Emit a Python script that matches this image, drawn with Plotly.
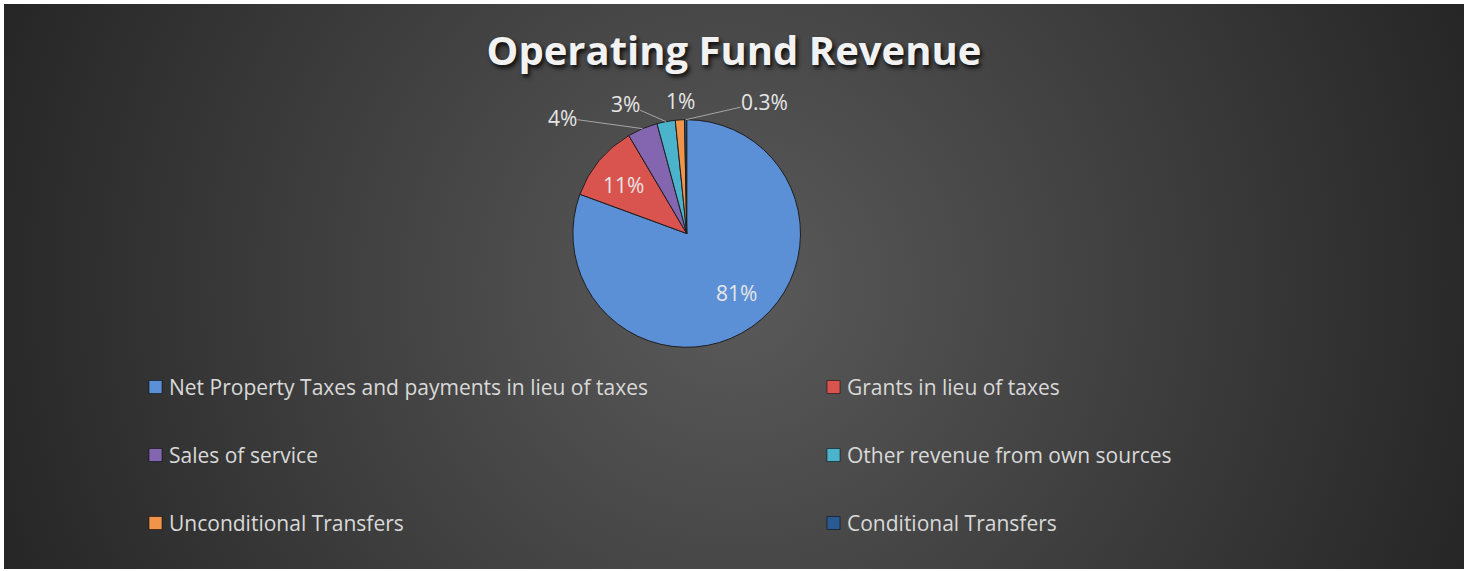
import base64
import math
import plotly.graph_objects as go

# ---- data ----
categories = [
    "Net Property Taxes and payments in lieu of taxes",
    "Grants in lieu of taxes",
    "Sales of service",
    "Other revenue from own sources",
    "Unconditional Transfers",
    "Conditional Transfers",
]
shares = [80.6, 10.9, 4.3, 2.6, 1.3, 0.3]
title_text = "Operating Fund Revenue"

# ---- style ----
colors = ["#5B8FD6", "#D9534F", "#8466B0", "#4BB3CC", "#F0944A", "#2A5A92"]
label_inside = [True, True, False, False, False, False]
label_shift = [(5, -5), (-3, -14), None, None, None, None]
label_offset = [None, None, (-80, -11), (-41, -18), (1, -19), (79, -18)]
label_leader = [False, False, True, True, False, True]

W, H = 1465, 571
CX, CY, R = 686.7, 233.5, 113.8   # pie centre / radius in px
FONT = "Open Sans"

total = sum(shares)
pct = [v / total * 100 for v in shares]
labels_txt = [f"{p:.0f}%" if p >= 1 else f"{p:.1f}%" for p in pct]


def px2paper(x, y):
    return x / W, 1 - y / H


fig = go.Figure()
fig.add_trace(go.Pie(
    labels=categories,
    values=shares,
    sort=False,
    direction="clockwise",
    rotation=0,
    marker=dict(colors=colors, line=dict(color="#1e1e1e", width=1)),
    textinfo="none",
    hoverinfo="label+percent",
    showlegend=False,
    domain=dict(x=[(CX - R) / W, (CX + R) / W], y=[1 - (CY + R) / H, 1 - (CY - R) / H]),
))

annotations = []
cum = 0.0
for i, v in enumerate(shares):
    mid = (cum + v / 2) / total * 2 * math.pi
    cum += v
    sx, sy = math.sin(mid), -math.cos(mid)
    if label_inside[i]:
        dx, dy = label_shift[i]
        px, py = CX + 0.69 * R * sx + dx, CY + 0.69 * R * sy + dy
        x, y = px2paper(px, py)
        annotations.append(dict(x=x, y=y, xref="paper", yref="paper", text=labels_txt[i],
                                showarrow=False, font=dict(family=FONT, size=21, color="#e6e6e6")))
    else:
        px, py = CX + R * sx, CY + R * sy
        x, y = px2paper(px, py)
        ax, ay = label_offset[i]
        annotations.append(dict(x=x, y=y, xref="paper", yref="paper", text=labels_txt[i],
                                showarrow=True, ax=ax, ay=ay, arrowhead=0, arrowwidth=1,
                                arrowcolor="#a6a6a6" if label_leader[i] else "rgba(0,0,0,0)",
                                standoff=0, borderpad=0,
                                font=dict(family=FONT, size=21, color="#e6e6e6")))

# ---- manual legend (2 columns x 3 rows) ----
shapes = []
col_x = [149, 827]
row_y = [387, 455, 523]
sq = 13
for i, name in enumerate(categories):
    cx_ = col_x[i % 2]
    cy_ = row_y[i // 2]
    x0, y1 = px2paper(cx_, cy_ - sq / 2)
    x1, y0 = px2paper(cx_ + sq, cy_ + sq / 2)
    shapes.append(dict(type="rect", xref="paper", yref="paper", x0=x0, x1=x1, y0=y0, y1=y1,
                       fillcolor=colors[i], line=dict(color="rgba(0,0,0,0.5)", width=1)))
    tx, ty = px2paper(cx_ + sq + 5, cy_)
    annotations.append(dict(x=tx, y=ty, xref="paper", yref="paper", text=name, showarrow=False,
                            xanchor="left", yanchor="middle",
                            font=dict(family=FONT, size=21, color="#d9d9d9")))

# ---- radial gradient background ----
BW, BH = 1460, 565
svg = (f'<svg xmlns="http://www.w3.org/2000/svg" width="{BW}" height="{BH}" viewBox="0 0 {BW} {BH}" '
       f'preserveAspectRatio="none"><defs><radialGradient id="g" gradientUnits="userSpaceOnUse" '
       f'cx="{BW/2}" cy="{BH/2}" r="780"><stop offset="0" stop-color="#5a5a5a"/>'
       f'<stop offset="1" stop-color="#262626"/></radialGradient></defs>'
       f'<rect width="{BW}" height="{BH}" fill="url(#g)"/></svg>')
src = "data:image/svg+xml;base64," + base64.b64encode(svg.encode()).decode()

fig.update_layout(
    width=W, height=H,
    margin=dict(l=0, r=0, t=0, b=0),
    paper_bgcolor="white",
    plot_bgcolor="rgba(0,0,0,0)",
    title=dict(text=f"<b>{title_text}</b>", x=734 / W, xanchor="center", xref="paper",
               y=1 - 51 / H, yanchor="middle", yref="paper",
               font=dict(family="Open Sans", size=40, color="#f2f2f2",
                         shadow="2px 3px 4px rgba(0,0,0,0.85)")),
    images=[dict(source=src, xref="paper", yref="paper", x=4 / W, y=1 - 4 / H,
                 sizex=BW / W, sizey=BH / H, sizing="stretch", xanchor="left", yanchor="top",
                 layer="below")],
    annotations=annotations,
    shapes=shapes,
)

fig.write_html("out.html", config={"displayModeBar": False},
               post_script="document.body.style.margin='0px';document.body.style.overflow='hidden';")
